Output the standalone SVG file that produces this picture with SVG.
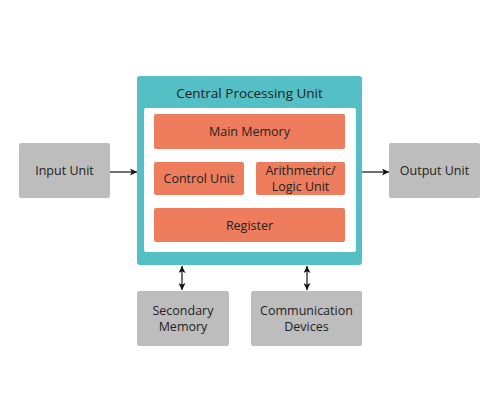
<svg xmlns="http://www.w3.org/2000/svg" width="500" height="400" viewBox="0 0 500 400">
<defs>
<marker id="ah" viewBox="0 0 10 10" refX="10" refY="5" markerWidth="7" markerHeight="7" orient="auto-start-reverse" markerUnits="userSpaceOnUse">
<path d="M0,0 L10,5 L0,10 L2.5,5 z" fill="#111"/>
</marker>
<style>
text{font-family:"Open Sans","Noto Sans","DejaVu Sans",sans-serif;fill:#222;text-anchor:middle}
.gray{fill:#bdbdbd}
.org{fill:#ee7d5e}
.lbl{font-size:12.5px}
.ln{stroke:#111;stroke-width:1.2;fill:none}
</style>
</defs>
<rect width="500" height="400" fill="#fff"/>
<g id="cpu">
<rect x="137" y="76" width="225" height="189" rx="3" fill="#54bfc5"/>
<rect x="144" y="108" width="212" height="144" rx="2" fill="#fff"/>
<text x="249.5" y="98" font-size="13.5">Central Processing Unit</text>
</g>
<g id="main-memory">
<rect class="org" x="154" y="114" width="191" height="35" rx="2"/>
<text class="lbl" x="249.5" y="135.5">Main Memory</text>
</g>
<g id="control-unit">
<rect class="org" x="154" y="162" width="90" height="33" rx="2"/>
<text class="lbl" x="199" y="183">Control Unit</text>
</g>
<g id="alu">
<rect class="org" x="256" y="162" width="89" height="33" rx="2"/>
<text class="lbl" x="300.5" y="174.5">Arithmetric/</text>
<text class="lbl" x="300.5" y="190.5">Logic Unit</text>
</g>
<g id="register">
<rect class="org" x="154" y="208" width="191" height="34" rx="2"/>
<text class="lbl" x="249.5" y="229.5">Register</text>
</g>
<g id="input-unit">
<rect class="gray" x="19" y="143" width="91" height="55" rx="2"/>
<text class="lbl" x="64.5" y="174.5">Input Unit</text>
</g>
<g id="output-unit">
<rect class="gray" x="389" y="143" width="91" height="55" rx="2"/>
<text class="lbl" x="434.5" y="174.5">Output Unit</text>
</g>
<g id="secondary-memory">
<rect class="gray" x="137" y="291" width="92" height="55" rx="2"/>
<text class="lbl" x="183" y="314.5">Secondary</text>
<text class="lbl" x="183" y="331">Memory</text>
</g>
<g id="communication-devices">
<rect class="gray" x="251" y="291" width="111" height="55" rx="2"/>
<text class="lbl" x="306.5" y="314.5">Communication</text>
<text class="lbl" x="306.5" y="331">Devices</text>
</g>
<g id="connectors">
<line class="ln" x1="110" y1="172" x2="137" y2="172" marker-end="url(#ah)"/>
<line class="ln" x1="362" y1="172" x2="389" y2="172" marker-end="url(#ah)"/>
<line class="ln" x1="182" y1="266" x2="182" y2="290" marker-start="url(#ah)" marker-end="url(#ah)"/>
<line class="ln" x1="307" y1="266" x2="307" y2="290" marker-start="url(#ah)" marker-end="url(#ah)"/>
</g>
</svg>
